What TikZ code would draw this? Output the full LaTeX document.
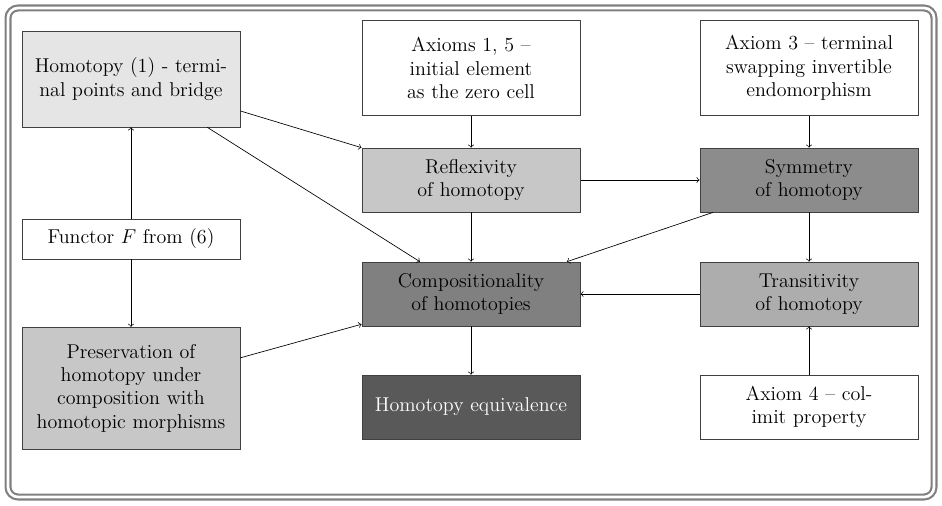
\documentclass[tikz,border=0pt]{standalone}
\begin{document}
\begin{tikzpicture}[x=0.6pt,y=-0.6pt,
  box/.style={draw=black!75,minimum width=131pt,text width=120pt,align=center,inner sep=2pt,font=\fontsize{12}{14}\selectfont},
  ar/.style={-to,black}]
\useasboundingbox (0,0) rectangle (942,505);
\draw[gray,line width=1.3pt,double=white,double distance=1.6pt,rounded corners=6pt] (8,8) rectangle (934,497);
\node[box,fill=black!10,minimum height=57.6pt] (A) at (131,79) {Homotopy (1) - terminal points and bridge};
\node[box,fill=white,minimum height=57pt] (B) at (471,68) {Axioms 1, 5 -- initial element as the zero cell};
\node[box,fill=white,minimum height=57pt] (C) at (809,68) {Axiom 3 -- terminal swapping invertible endomorphism};
\node[box,fill=black!22,minimum height=38.4pt] (D) at (471,180) {Reflexivity of homotopy};
\node[box,fill=black!45,minimum height=38.4pt] (E) at (809,180) {Symmetry of homotopy};
\node[box,fill=white,minimum height=24pt] (F) at (131,239) {Functor $F$ from (6)};
\node[box,fill=black!50,minimum height=38.4pt] (G) at (471,294) {Compositionality of homotopies};
\node[box,fill=black!32,minimum height=38.4pt] (H) at (809,294) {Transitivity of homotopy};
\node[box,fill=black!22,minimum height=73pt] (I) at (131,388) {Preservation of homotopy under composition with homotopic morphisms};
\node[box,fill=black!65,text=white,minimum height=38.4pt] (J) at (471,407) {Homotopy equivalence};
\node[box,fill=white,minimum height=38.4pt] (K) at (809,407) {Axiom 4 -- colimit property};
\draw[ar] (F) -- (A);
\draw[ar] (F) -- (I);
\draw[ar] (A.east |- 0,111) -- (D.north west);
\draw[ar] (A) -- (G);
\draw[ar] (I) -- (G);
\draw[ar] (B) -- (D);
\draw[ar] (C) -- (E);
\draw[ar] (D) -- (E);
\draw[ar] (D) -- (G);
\draw[ar] (E) -- (H);
\draw[ar] (E) -- (G);
\draw[ar] (H) -- (G);
\draw[ar] (G) -- (J);
\draw[ar] (K) -- (H);
\end{tikzpicture}
\end{document}
